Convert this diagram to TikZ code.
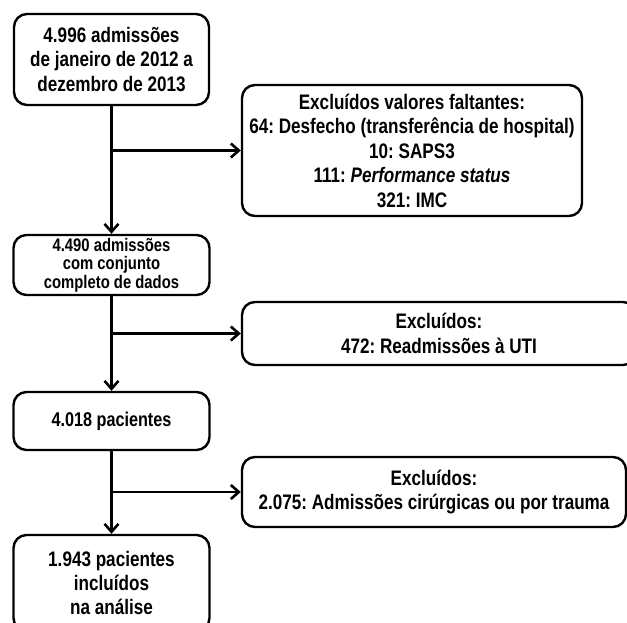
\documentclass[tikz,border=0pt]{standalone}
\usepackage{fontspec}
\setmainfont{Liberation Sans}[FakeStretch=0.815]
\usetikzlibrary{arrows.meta}
\frenchspacing
\begin{document}
\begin{tikzpicture}[x=1pt,y=-1pt,
  box/.style={draw,line width=2.4pt,rounded corners=13pt,inner sep=0pt,
    align=center,font=\bfseries\fontsize{21}{24.5}\selectfont},
  flow/.style={line width=2.8pt,-{Straight Barb[length=8pt,width=14pt,line width=2.6pt]}}]
\useasboundingbox (0,0) rectangle (627,622);
\node[box,minimum width=195pt,minimum height=91pt] (a) at (111.5,59.5)
  {4.996 admissões\\de janeiro de 2012 a\\dezembro de 2013};
\node[box,minimum width=340pt,minimum height=131pt] (b) at (412,150.5)
  {Excluídos valores faltantes:\\64: Desfecho (transferência de hospital)\\10: SAPS3\\111: \textit{Performance status}\\321: IMC};
\node[box,minimum width=196pt,minimum height=60pt,font=\bfseries\fontsize{18.2}{18.7}\selectfont] (c) at (111.5,265)
  {4.490 admissões\\com conjunto\\completo de dados};
\node[box,minimum width=394pt,minimum height=63pt] (d) at (439,333.5)
  {Excluídos:\\472: Readmissões à UTI};
\node[box,minimum width=196pt,minimum height=58pt,font=\bfseries\fontsize{19.9}{22}\selectfont] (e) at (111.5,421)
  {4.018 pacientes};
\node[box,minimum width=384pt,minimum height=70pt] (f) at (434,492)
  {Excluídos:\\2.075: Admissões cirúrgicas ou por trauma};
\node[box,minimum width=196pt,minimum height=96pt,font=\bfseries\fontsize{21}{24}\selectfont] (g) at (111.5,583)
  {1.943 pacientes\\incluídos\\na análise};
\draw[flow] (a) -- (c);
\draw[flow] (a.south |- b.west) -- (b.west);
\draw[flow] (c) -- (e);
\draw[flow] (c.south |- d.west) -- (d.west);
\draw[flow] (e) -- (g);
\draw[flow] (e.south |- f.west) -- (f.west);
\end{tikzpicture}
\end{document}
